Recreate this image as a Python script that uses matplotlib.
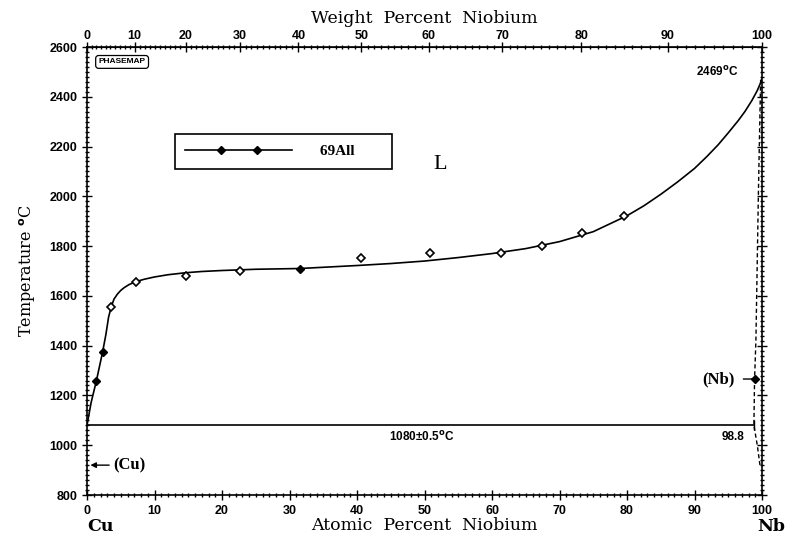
import numpy as np
import matplotlib
matplotlib.use("Agg")
import matplotlib.pyplot as plt
from matplotlib.lines import Line2D
from matplotlib.legend_handler import HandlerLine2D

# Cu-Nb phase diagram (69All data)

# liquidus (at.% Nb, deg C)
liq_at = [0, 0.6, 1.4, 2.3, 2.8, 3.2, 3.6, 4.0, 4.5, 5.0, 5.5, 6.2, 7.2, 8.5, 10,
          12, 14.6, 17, 20, 25, 31.5, 40, 45, 50, 55, 60, 65, 70, 75, 80,
          82.5, 85, 87.5, 90, 91.8, 93.5, 95, 96.5, 97.5, 98.5, 99.3, 100]
liq_T = [1080, 1170, 1260, 1373, 1445, 1515, 1557, 1587, 1607, 1622, 1633, 1645,
         1657, 1667, 1676, 1685, 1693, 1698, 1702, 1707, 1710, 1722, 1730, 1740,
         1754, 1770, 1790, 1818, 1858, 1922, 1962, 2008, 2058, 2112, 2159, 2207,
         2255, 2305, 2342, 2385, 2425, 2469]

# measured points (69All)
pts_at = [1.4, 2.3, 3.6, 7.2, 14.6, 22.7, 31.5, 40.6, 50.8, 61.3, 67.4, 73.3, 79.6]
pts_T = [1260, 1373, 1557, 1657, 1680, 1700, 1708, 1751, 1771, 1771, 1802, 1851, 1922]
pts_filled = [True, True, False, False, False, False, True, False, False, False,
              False, False, False]

# (Nb) solidus, dashed
nb_at = [99.8, 99.6, 99.45, 99.1, 98.9, 98.8, 99.3, 99.7]
nb_T = [2469, 2200, 1985, 1423, 1266, 1080, 1000, 920]
nb_pt_at = [98.9]
nb_pt_T = [1266]

# isotherm
iso_at = [0, 98.8]
iso_T = [1080, 1080]

M_NB = 92.906
M_CU = 63.546


def at2wt(a):
    a = np.asarray(a, dtype=float)
    return 100 * a * M_NB / (a * M_NB + (100 - a) * M_CU)


def wt2at(w):
    w = np.asarray(w, dtype=float)
    return 100 * (w / M_NB) / (w / M_NB + (100 - w) / M_CU)


plt.rcParams['font.family'] = 'Liberation Sans'
plt.rcParams['font.weight'] = 'bold'
plt.rcParams['font.size'] = 9

fig = plt.figure(figsize=(7.86, 5.37), dpi=100)
ax = fig.add_axes([87 / 786, 42 / 537, 675 / 786, 448 / 537])

ax.plot(liq_at, liq_T, color='k', lw=1.2)
ax.plot(iso_at, iso_T, color='k', lw=1.2, marker='|', markevery=[1], ms=7)
ax.plot(nb_at, nb_T, color='k', lw=1.0, ls=(0, (3, 2)))

op_at = [a for a, f in zip(pts_at, pts_filled) if not f]
op_T = [t for t, f in zip(pts_T, pts_filled) if not f]
fl_at = [a for a, f in zip(pts_at, pts_filled) if f]
fl_T = [t for t, f in zip(pts_T, pts_filled) if f]
ax.plot(op_at, op_T, ls='none', marker='D', ms=4.5, mfc='white', mec='k', mew=1.2)
ax.plot(fl_at, fl_T, ls='none', marker='D', ms=4.5, mfc='k', mec='k')

ax.annotate('(Nb)', xy=(nb_pt_at[0], nb_pt_T[0]), xytext=(96.0, nb_pt_T[0]),
            ha='right', va='center', family='Liberation Serif', fontsize=12,
            fontweight='bold', arrowprops=dict(arrowstyle='-', color='k', lw=1,
                                               shrinkA=4, shrinkB=0))
ax.plot(nb_pt_at, nb_pt_T, ls='none', marker='D', ms=4.5, mfc='k', mec='k')

ax.annotate('(Cu)', xy=(0.5, 920), xytext=(3.9, 920), ha='left', va='center',
            family='Liberation Serif', fontsize=12,
            arrowprops=dict(arrowstyle='-|>', color='k', lw=1, mutation_scale=8,
                            shrinkA=1, shrinkB=0))

ax.set_xlim(0, 100)
ax.set_ylim(800, 2600)
ax.set_xticks(np.arange(0, 101, 10))
ax.set_xticks(np.arange(0, 101, 1), minor=True)
ax.set_yticks(np.arange(800, 2601, 200))
ax.set_yticks(np.arange(800, 2601, 20), minor=True)
ax.tick_params(which='both', direction='inout', right=True, width=1)
ax.tick_params(which='major', length=7)
ax.tick_params(which='minor', length=3.5)
ax.tick_params(axis='y', which='both', labelright=False)
for s in ax.spines.values():
    s.set_linewidth(1.2)

sec = ax.secondary_xaxis('top', functions=(at2wt, wt2at))
sec.set_xticks(np.arange(0, 101, 10))
sec.set_xticks(np.arange(0, 100, 1), minor=True)
sec.tick_params(which='both', direction='inout', width=1)
sec.tick_params(which='major', length=7, pad=0)
sec.tick_params(which='minor', length=3.5)
sec.set_xlabel('Weight  Percent  Niobium', family='DejaVu Serif',
               fontsize=12.5, fontweight='normal', labelpad=5)

ax.set_xlabel('Atomic  Percent  Niobium', family='DejaVu Serif',
              fontsize=12.5, fontweight='normal', labelpad=0)
ax.set_ylabel('Temperature $^{\\rm o}$C', family='DejaVu Serif',
              fontsize=11.5, fontweight='normal', labelpad=8)
ax.text(0, -0.07, 'Cu', transform=ax.transAxes, family='DejaVu Serif',
        fontsize=12.5, ha='left', va='center')
ax.text(1.034, -0.07, 'Nb', transform=ax.transAxes, family='DejaVu Serif',
        fontsize=12.5, ha='right', va='center')

ax.text(93.3, 2500, '2469$^{\\rm o}$C', ha='center', va='center', fontsize=8.5)
ax.text(49.5, 1035, '1080\u00b10.5$^{\\rm o}$C', ha='center', va='center', fontsize=8.5)
ax.text(95.7, 1035, '98.8', ha='center', va='center', fontsize=8.5)
ax.text(52.3, 2126, 'L', ha='center', va='center', family='Liberation Serif',
        fontsize=16, fontweight='normal')
ax.text(5.2, 2540, 'PHASEMAP', ha='center', va='center', fontsize=6,
        bbox=dict(boxstyle='round,pad=0.35', fc='white', ec='k', lw=0.9))

# legend: line with two filled diamonds
line_h = Line2D([], [], color='k', lw=1.2)
mark_h = Line2D([], [], color='k', ls='none', marker='D', ms=4.5, mfc='k')
leg = ax.legend([(line_h, mark_h)], ['69All       '], loc='upper left',
                bbox_to_anchor=(0.130, 0.806), borderaxespad=0, fancybox=False,
                edgecolor='k', framealpha=1, handlelength=7.0, handletextpad=1.8,
                borderpad=0.7,
                prop=dict(family='Liberation Serif', size=11, weight='bold'),
                handler_map={line_h: HandlerLine2D(numpoints=1),
                             mark_h: HandlerLine2D(numpoints=2, marker_pad=2.3)})
leg.get_frame().set_linewidth(1.2)

fig.savefig('out.png', dpi=100)
